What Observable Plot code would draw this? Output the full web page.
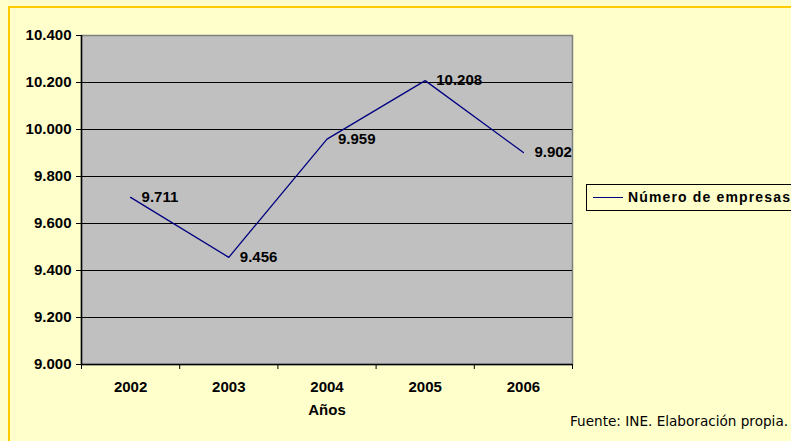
<!DOCTYPE html>
<html>
<head>
<meta charset="utf-8">
<script src="https://cdn.jsdelivr.net/npm/d3@7"></script>
<script src="https://cdn.jsdelivr.net/npm/@observablehq/plot@0.6"></script>
<style>
  html, body { margin: 0; padding: 0; background: #FFFFCC; }
  #wrap { position: relative; width: 791px; height: 441px; overflow: hidden; background: #FFFFCC; }
  #border { position: absolute; left: 8px; top: 6px; right: -10px; bottom: -10px;
            border-left: 2px solid #FFCC00; border-top: 2px solid #FFCC00; }
  #chart { position: absolute; left: 0; top: 0; }
  #legend { position: absolute; left: 586px; top: 184px; width: 220px; height: 27px;
            border: 1px solid #000; background: #FFFFCC; box-sizing: border-box; }
  #legend .sw { position: absolute; left: 6px; top: 12px; width: 30px; border-top: 1.3px solid #000080; }
  #legend .tx { position: absolute; left: 41px; top: 4px; font: bold 14px "Liberation Sans", Arial, sans-serif;
                letter-spacing: 1.15px; color: #000; white-space: nowrap; }
  #footer { position: absolute; left: 570px; top: 413px; font: 13.6px "DejaVu Sans", Verdana, sans-serif; color: #000; white-space: nowrap; }
</style>
</head>
<body>
<div id="wrap">
  <div id="border"></div>
  <div id="chart"></div>
  <div id="legend"><div class="sw"></div><div class="tx">Número de empresas</div></div>
  <div id="footer">Fuente: INE. Elaboración propia.</div>
</div>
<script>
const years = [2002, 2003, 2004, 2005, 2006];
const empresas = [9711, 9456, 9959, 10208, 9902];
const yTicks = [9000, 9200, 9400, 9600, 9800, 10000, 10200, 10400];
const seriesName = "Número de empresas";
const xTitle = "Años";

const es = d3.formatLocale({decimal: ",", thousands: ".", grouping: [3], currency: ["", " €"]});
const fmt = es.format(",");

const data = years.map((y, i) => ({year: y, value: empresas[i]}));
const bounds = [years[0] - 0.5, ...years.map(y => y + 0.5)];
const gridTicks = yTicks.slice(1, -1);
const FS = 15;

const plot = Plot.plot({
  width: 791,
  height: 441,
  marginLeft: 81,
  marginRight: 219,
  marginTop: 35,
  marginBottom: 77,
  style: {background: "transparent", fontFamily: "'Liberation Sans', Arial, sans-serif", fontSize: FS + "px", fontWeight: "bold", color: "#000"},
  x: {domain: [bounds[0], bounds[bounds.length - 1]]},
  y: {domain: [yTicks[0], yTicks[yTicks.length - 1]]},
  marks: [
    Plot.frame({fill: "#C0C0C0", stroke: "#808080", strokeWidth: 1.5}),
    Plot.ruleY(gridTicks, {stroke: "#000", strokeWidth: 1.2}),
    Plot.ruleY([yTicks[0]], {stroke: "#000", strokeWidth: 1.5}),
    Plot.ruleX([bounds[0]], {stroke: "#000", strokeWidth: 1.5}),
    Plot.axisY({ticks: yTicks, tickFormat: fmt, tickSize: 5, tickPadding: 5, label: null, stroke: "#000", fontSize: FS, fontWeight: "bold"}),
    Plot.axisX({ticks: bounds, tickSize: 5, tickFormat: () => "", label: null, stroke: "#000"}),
    Plot.axisX({ticks: years, tickSize: 0, tickPadding: 17, tickFormat: d => String(d), label: null, fontSize: FS, fontWeight: "bold"}),
    Plot.text([xTitle], {frameAnchor: "bottom", dy: 50, fontSize: FS, fontWeight: "bold"}),
    Plot.line(data, {x: "year", y: "value", stroke: "#000080", strokeWidth: 1.3}),
    Plot.text(data, {x: "year", y: "value", text: d => fmt(d.value), textAnchor: "start", dx: 11, fontSize: FS, fontWeight: "bold", fill: "#000"})
  ]
});
document.getElementById("chart").appendChild(plot);
</script>
</body>
</html>
